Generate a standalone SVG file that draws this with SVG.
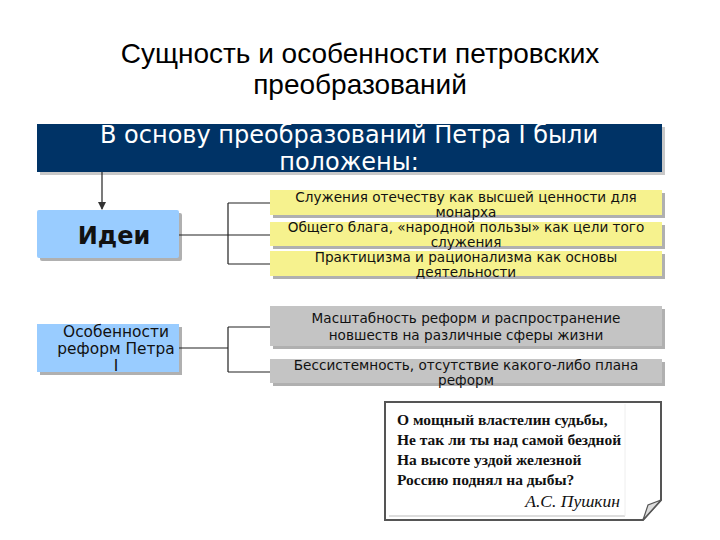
<svg xmlns="http://www.w3.org/2000/svg" width="720" height="540" viewBox="0 0 720 540">
<defs>
<marker id="arr" markerWidth="8" markerHeight="8" refX="7" refY="4" orient="auto" markerUnits="userSpaceOnUse">
<path d="M0,0 L8,4 L0,8 Z" fill="#333"/>
</marker>
</defs>
<style>
.title{font-family:"Liberation Sans",Arial,sans-serif;font-size:28px;fill:#000;text-anchor:middle}
.head{font-family:"DejaVu Sans",Verdana,sans-serif;font-size:24px;fill:#fff;text-anchor:middle}
.blue{fill:#99ccff}
.shadow{fill:#b0b0b0}
.yellow{fill:#f6f28e}
.grey{fill:#c4c4c4}
.t{font-family:"DejaVu Sans",Verdana,sans-serif;font-size:13.6px;fill:#111;text-anchor:middle}
.conn{fill:none;stroke:#222;stroke-width:1.2}
.poem{font-family:"Liberation Serif","Times New Roman",serif;font-size:15.5px;font-weight:bold;fill:#111}
.f{font-family:"DejaVu Sans",Verdana,sans-serif;font-size:15.4px;fill:#111;text-anchor:middle}
</style>
<rect width="720" height="540" fill="#fff"/>
<g id="title">
<text class="title" x="360" y="63">Сущность и особенности петровских</text>
<text class="title" x="360" y="94">преобразований</text>
</g>
<g id="header">
<rect x="40" y="127" width="625" height="48" fill="#c8c8c8"/>
<rect x="37" y="124" width="625" height="48" fill="#003366"/>
<text class="head" x="349" y="143">В основу преобразований Петра I были</text>
<text class="head" x="349" y="170">положены:</text>
</g>
<g id="ideas">
<rect x="40" y="213" width="142" height="48" rx="2" class="shadow"/>
<rect x="37" y="210" width="142" height="48" rx="2" class="blue"/>
<text x="114" y="244" font-family="DejaVu Sans,Verdana,sans-serif" font-size="24" font-weight="bold" fill="#111" text-anchor="middle">Идеи</text>
</g>
<g id="y1">
<rect x="273" y="193" width="392" height="25" class="shadow"/>
<rect x="270" y="190" width="392" height="25" class="yellow"/>
<text class="t" x="466" y="202">Служения отечеству как высшей ценности для</text>
<text class="t" x="466" y="217">монарха</text>
</g>
<g id="y2">
<rect x="273" y="225" width="392" height="24" class="shadow"/>
<rect x="270" y="222" width="392" height="24" class="yellow"/>
<text class="t" x="466" y="232">Общего блага, «народной пользы» как цели того</text>
<text class="t" x="466" y="247">служения</text>
</g>
<g id="y3">
<rect x="273" y="254" width="392" height="25" class="shadow"/>
<rect x="270" y="251" width="392" height="25" class="yellow"/>
<text class="t" x="466" y="262">Практицизма и рационализма как основы</text>
<text class="t" x="466" y="277">деятельности</text>
</g>
<g id="features">
<rect x="40" y="327" width="142" height="48" class="shadow"/>
<rect x="37" y="324" width="142" height="48" class="blue"/>
<text class="f" x="116" y="337">Особенности</text>
<text class="f" x="116" y="354">реформ Петра</text>
<text class="f" x="116" y="371">I</text>
</g>
<g id="g1">
<rect x="273" y="309" width="392" height="40" class="shadow"/>
<rect x="270" y="306" width="392" height="40" class="grey"/>
<text class="t" x="466" y="323">Масштабность реформ и распространение</text>
<text class="t" x="466" y="340">новшеств на различные сферы жизни</text>
</g>
<g id="g2">
<rect x="273" y="362" width="392" height="24" class="shadow"/>
<rect x="270" y="359" width="392" height="24" class="grey"/>
<text class="t" x="466" y="370">Бессистемность, отсутствие какого-либо плана</text>
<text class="t" x="466" y="385">реформ</text>
</g>
<g id="quote">
<path d="M385,402 H661 V500 L643,520 H385 Z" fill="#fff" stroke="#555" stroke-width="2"/>
<line x1="389" y1="516" x2="625" y2="516" stroke="#bbb" stroke-width="1"/>
<line x1="625" y1="404" x2="625" y2="516" stroke="#eee" stroke-width="1"/>
<path d="M643,520 L648,505 L661,500 Z" fill="#ddd" stroke="#555" stroke-width="1.2"/>
<text class="poem" x="397" y="425">О мощный властелин судьбы,</text>
<text class="poem" x="397" y="445">Не так ли ты над самой бездной</text>
<text class="poem" x="397" y="465">На высоте уздой железной</text>
<text class="poem" x="397" y="485">Россию поднял на дыбы?</text>
<text x="620" y="507" font-family="Liberation Serif,Times New Roman,serif" font-size="17.5" font-style="italic" fill="#111" text-anchor="end">А.С. Пушкин</text>
</g>
<g id="connectors">
<line x1="102" y1="172" x2="102" y2="209" class="conn" marker-end="url(#arr)"/>
<path d="M179,235 H228 M228,203 V264 M228,203 H270 M228,235 H270 M228,264 H270" class="conn"/>
<path d="M179,348 H228 M228,327 V372 M228,327 H270 M228,372 H270" class="conn"/>
</g>
</svg>
